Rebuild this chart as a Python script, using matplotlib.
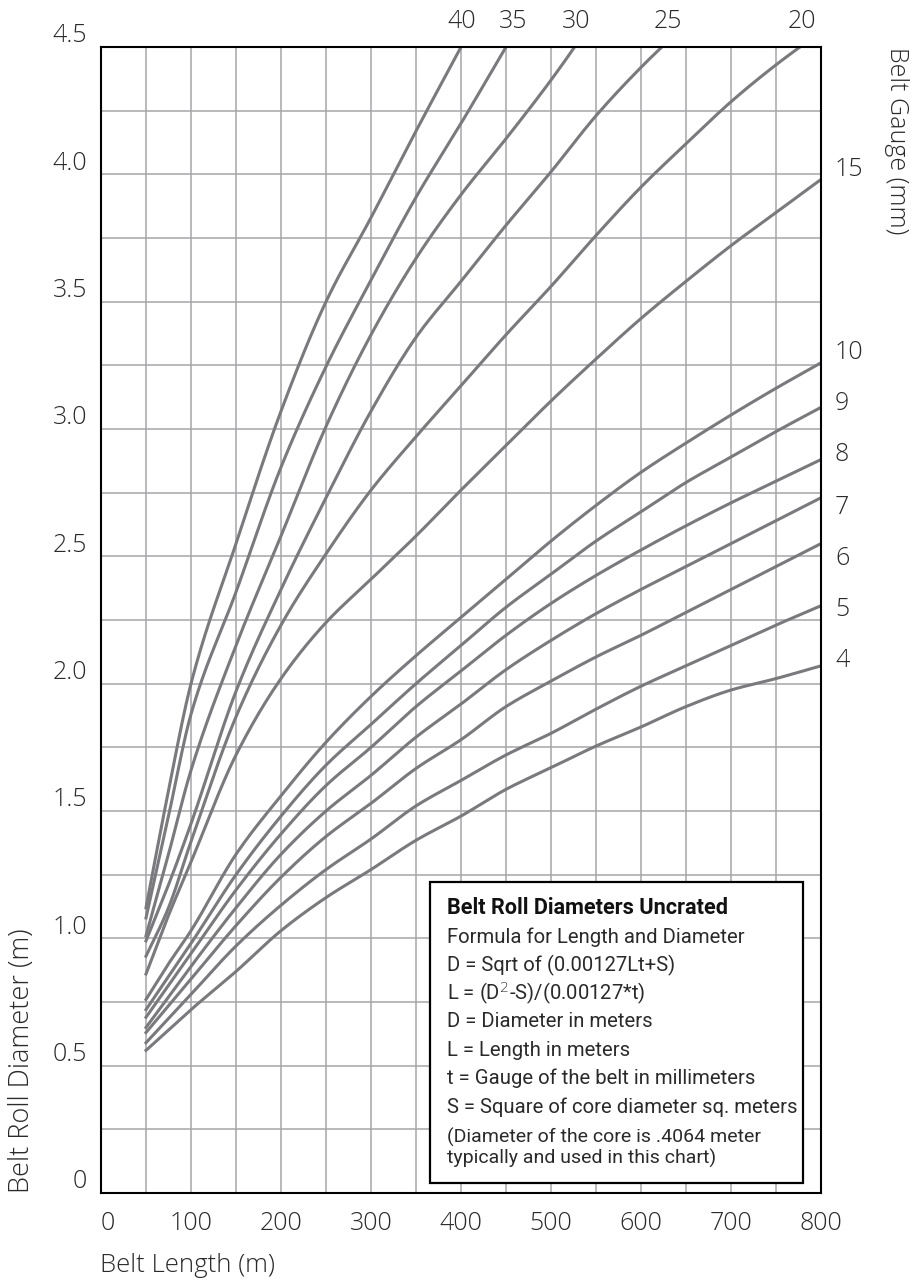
import numpy as np
import matplotlib
matplotlib.use("Agg")
import matplotlib.pyplot as plt
from matplotlib.patches import Rectangle
from matplotlib.transforms import ScaledTranslation

plt.rcParams["font.family"] = ["Open Sans", "DejaVu Sans"]
plt.rcParams["font.weight"] = "light"

nan = np.nan

lengths = [50, 75, 100, 150, 200, 250, 300, 350, 400, 450, 500, 550, 600, 650, 700, 750, 800]

# belt roll diameter (m) per belt gauge (mm)
d4 = [0.56, 0.64, 0.72, 0.87, 1.03, 1.16, 1.27, 1.385, 1.48, 1.585, 1.67, 1.755, 1.83, 1.91, 1.975, 2.02, 2.07]
d5 = [0.59, 0.685, 0.78, 0.97, 1.13, 1.27, 1.39, 1.52, 1.62, 1.72, 1.805, 1.90, 1.99, 2.07, 2.15, 2.23, 2.306]
d6 = [0.63, 0.735, 0.84, 1.05, 1.24, 1.40, 1.53, 1.667, 1.78, 1.91, 2.01, 2.105, 2.19, 2.28, 2.37, 2.46, 2.55]
d7 = [0.65, 0.77, 0.89, 1.12, 1.33, 1.50, 1.64, 1.79, 1.92, 2.055, 2.17, 2.275, 2.37, 2.46, 2.55, 2.64, 2.73]
d8 = [0.69, 0.815, 0.94, 1.19, 1.41, 1.60, 1.75, 1.91, 2.05, 2.19, 2.315, 2.425, 2.525, 2.62, 2.71, 2.795, 2.88]
d9 = [0.72, 0.85, 0.98, 1.25, 1.48, 1.68, 1.84, 2.00, 2.15, 2.30, 2.43, 2.56, 2.675, 2.79, 2.89, 2.99, 3.085]
d10 = [0.76, 0.90, 1.03, 1.33, 1.56, 1.77, 1.95, 2.11, 2.26, 2.41, 2.56, 2.70, 2.83, 2.945, 3.055, 3.16, 3.26]
d15 = [0.86, 1.09, 1.30, 1.72, 2.02, 2.24, 2.41, 2.58, 2.76, 2.935, 3.11, 3.275, 3.434, 3.58, 3.72, 3.85, 3.98]
d20 = [0.93, 1.12, 1.38, 1.87, 2.23, 2.51, 2.76, 2.97, 3.17, 3.37, 3.56, 3.76, 3.95, 4.12, 4.285, 4.43, 4.56]
d25 = [0.99, 1.21, 1.45, 1.97, 2.37, 2.73, 3.07, 3.36, 3.58, 3.80, 4.01, 4.23, 4.42, 4.59, nan, nan, nan]
d30 = [1.01, 1.33, 1.66, 2.15, 2.58, 3.01, 3.37, 3.67, 3.92, 4.14, 4.37, 4.62, nan, nan, nan, nan, nan]
d35 = [1.08, 1.48, 1.88, 2.36, 2.85, 3.245, 3.585, 3.91, 4.20, 4.50, nan, nan, nan, nan, nan, nan, nan]
d40 = [1.12, 1.58, 2.00, 2.55, 3.07, 3.50, 3.83, 4.17, 4.50, nan, nan, nan, nan, nan, nan, nan, nan]

curves = [d4, d5, d6, d7, d8, d9, d10, d15, d20, d25, d30, d35, d40]

# gauge labels: right side (end of curve) and top (where curve leaves the frame)
right_labels = ["15", "10", "9", "8", "7", "6", "5", "4"]
right_label_y = [4.02, 3.30, 3.10, 2.90, 2.69, 2.49, 2.29, 2.09]
top_labels = ["40", "35", "30", "25", "20"]
top_label_x = [401, 458, 528, 630, 779]

x_ticks = [0, 100, 200, 300, 400, 500, 600, 700, 800]
y_ticks = [0, 0.5, 1.0, 1.5, 2.0, 2.5, 3.0, 3.5, 4.0, 4.5]
y_tick_labels = ["0", "0.5", "1.0", "1.5", "2.0", "2.5", "3.0", "3.5", "4.0", "4.5"]

box_title = "Belt Roll Diameters Uncrated"
box_lines = [
    "Formula for Length and Diameter",
    "D = Sqrt of (0.00127Lt+S)",
    "L = (D$^{2}$-S)/(0.00127*t)",
    "D = Diameter in meters",
    "L = Length in meters",
    "t = Gauge of the belt in millimeters",
    "S = Square of core diameter sq. meters",
]
box_note = ["(Diameter of the core is .4064 meter", "typically and used in this chart)"]


def smooth(x, y, n=400):
    # monotone cubic through the read points, just to draw a smooth line
    x = np.asarray(x, float)
    y = np.asarray(y, float)
    ok = ~np.isnan(y)
    x, y = x[ok], y[ok]
    h = np.diff(x)
    dl = np.diff(y) / h
    m = np.empty_like(y)
    m[0], m[-1] = dl[0], dl[-1]
    for k in range(1, len(x) - 1):
        w1 = 2 * h[k] + h[k - 1]
        w2 = h[k] + 2 * h[k - 1]
        m[k] = (w1 + w2) / (w1 / dl[k - 1] + w2 / dl[k])
    xs = np.linspace(x[0], x[-1], n)
    i = np.clip(np.searchsorted(x, xs) - 1, 0, len(x) - 2)
    t = (xs - x[i]) / h[i]
    ys = ((2 * t**3 - 3 * t**2 + 1) * y[i] + (t**3 - 2 * t**2 + t) * h[i] * m[i]
          + (-2 * t**3 + 3 * t**2) * y[i + 1] + (t**3 - t**2) * h[i] * m[i + 1])
    return xs, ys


W, H = 911, 1284
fig = plt.figure(figsize=(W / 100, H / 100), dpi=100)
ax = fig.add_axes([101 / W, 91 / H, 720 / W, 1146 / H])

line_col = "#7a7a7e"
for d in curves:
    xs, ys = smooth(lengths, d)
    ax.plot(xs, ys, color=line_col, lw=2.2, zorder=2)

txt_col = "#2a2a2a"
ax.set_xlim(0, 800)
ax.set_ylim(0, 4.5)
ax.set_xticks(x_ticks)
ax.set_xticks(np.arange(0, 801, 50), minor=True)
ax.set_yticks(y_ticks)
ax.set_yticks(np.arange(0, 4.51, 0.25), minor=True)
ax.set_yticklabels(y_tick_labels)
ax.grid(which="both", color="#a6a6aa", lw=1.1)
ax.set_axisbelow(True)
ax.tick_params(which="both", length=0)
ax.tick_params(axis="x", pad=13, labelsize=18, labelcolor=txt_col)
ax.tick_params(axis="y", pad=10, labelsize=18, labelcolor=txt_col)
for s in ax.spines.values():
    s.set_linewidth(1.5)
    s.set_color("black")

up = ScaledTranslation(0, 0.14, fig.dpi_scale_trans)
for lab in ax.get_yticklabels():
    lab.set_transform(lab.get_transform() + up)
ax.get_xticklabels()[0].set_ha("left")

right_off = ScaledTranslation(0.14, 0, fig.dpi_scale_trans)
for lab, y in zip(right_labels, right_label_y):
    ax.text(1.0, y, lab, fontsize=18, color=txt_col, ha="left", va="center",
            transform=ax.get_yaxis_transform() + right_off)
top_off = ScaledTranslation(0, 0.26, fig.dpi_scale_trans)
for lab, x in zip(top_labels, top_label_x):
    ax.text(x, 1.0, lab, fontsize=18, color=txt_col, ha="center", va="center",
            transform=ax.get_xaxis_transform() + top_off)

fig.text(100 / W, 1 - 1266 / H, "Belt Length (m)", fontsize=18.5, color=txt_col,
         ha="left", va="center")
fig.text(22 / W, 1 - 1193 / H, "Belt Roll Diameter (m)", fontsize=19.5, color=txt_col,
         rotation=90, ha="center", va="bottom")
fig.text(897 / W, 1 - 47 / H, "Belt Gauge (mm)", fontsize=18, color=txt_col,
         rotation=-90, ha="center", va="top")


# formula box
def fy(py):
    return (1193 - py) / 1146


bx0 = (430 - 101) / 720
bx1 = (803 - 101) / 720
ax.add_patch(Rectangle((bx0, fy(1183)), bx1 - bx0, fy(882) - fy(1183), transform=ax.transAxes,
                       facecolor="white", edgecolor="black", lw=1.6, zorder=4))
tx = (447 - 101) / 720
box_font = ["Roboto", "DejaVu Sans"]
ax.text(tx, fy(908), box_title, transform=ax.transAxes, fontsize=15.6,
        fontweight="bold", color="#111111", ha="left", va="center", zorder=5, family=box_font)
for i, t in enumerate(box_lines):
    ax.text(tx, fy(937 + i * 28.3), t, transform=ax.transAxes, fontsize=14.6,
            fontweight="normal", color=txt_col, ha="left", va="center", zorder=5, family=box_font)
for i, t in enumerate(box_note):
    ax.text(tx, fy(1137 + i * 21.7), t, transform=ax.transAxes, fontsize=14,
            fontweight="normal", color=txt_col, ha="left", va="center", zorder=5, family=box_font)

fig.savefig("out.png", dpi=100, facecolor="white")
